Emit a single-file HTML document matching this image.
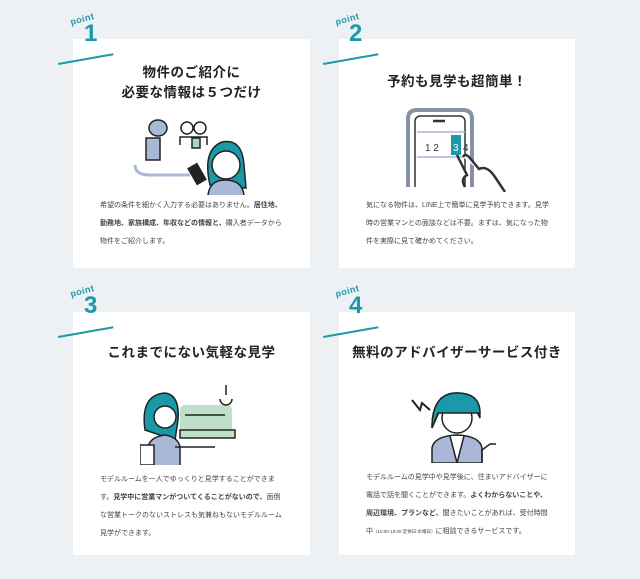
<!DOCTYPE html>
<html><head><meta charset="utf-8"><style>
body{margin:0;width:640px;height:579px;background:#eef1f4;position:relative;overflow:hidden;font-family:"Liberation Sans","Noto Sans CJK JP",sans-serif;color:#333}
.card{position:absolute;background:#fff}
.pt{position:absolute;color:#1a9aa8;font-weight:bold}
.pt .p{position:absolute;font-size:9px;transform:rotate(-15deg);left:8px;top:0;letter-spacing:0.5px}
.pt .n{position:absolute;font-size:24px;left:22px;top:6px}
.ln{position:absolute;height:2px;background:#1a9aa8;transform-origin:0 0;transform:rotate(-10deg);width:56px}
.t{position:absolute;left:0;right:0;text-align:center;font-size:13.5px;font-weight:bold;line-height:20px;color:#222;letter-spacing:0.5px;white-space:nowrap}
.b{position:absolute;left:27px;font-size:7px;line-height:18px;color:#444;white-space:nowrap}
svg{position:absolute}
</style></head><body>
<div class="card" style="left:73px;top:39px;width:237px;height:229px">
<div class="t" style="top:24px">物件のご紹介に<br>必要な情報は５つだけ</div>
<div class="b" style="top:158px">希望の条件を細かく入力する必要はありません。<b>居住地、</b><br><b>勤務地、家族構成、年収などの情報と、</b>購入者データから<br>物件をご紹介します。</div>
</div>
<div class="card" style="left:339px;top:39px;width:236px;height:229px">
<div class="t" style="top:33px">予約も見学も超簡単！</div>
<div class="b" style="top:158px">気になる物件は、LINE上で簡単に見学予約できます。見学<br>時の営業マンとの面談などは不要。まずは、気になった物<br>件を実際に見て確かめてください。</div>
</div>
<div class="card" style="left:73px;top:312px;width:237px;height:243px">
<div class="t" style="top:31px">これまでにない気軽な見学</div>
<div class="b" style="top:159px">モデルルームを一人でゆっくりと見学することができま<br>す。<b>見学中に営業マンがついてくることがないので、</b>面倒<br>な営業トークのないストレスも気兼ねもないモデルルーム<br>見学ができます。</div>
</div>
<div class="card" style="left:339px;top:312px;width:236px;height:243px">
<div class="t" style="top:31px">無料のアドバイザーサービス付き</div>
<div class="b" style="top:157px">モデルルームの見学中や見学後に、住まいアドバイザーに<br>電話で話を聞くことができます。<b>よくわからないことや、</b><br><b>周辺環境、プランなど、</b>聞きたいことがあれば、受付時間<br>中<span style="font-size:4.5px">（10:00-18:00 定休日:水曜日）</span>に相談できるサービスです。</div>
</div>

<div class="pt" style="left:62px;top:14px"><span class="p">point</span><span class="n">1</span></div>
<div class="ln" style="left:58px;top:63px"></div>
<div class="pt" style="left:327px;top:14px"><span class="p">point</span><span class="n">2</span></div>
<div class="ln" style="left:323px;top:63px"></div>
<div class="pt" style="left:62px;top:286px"><span class="p">point</span><span class="n">3</span></div>
<div class="ln" style="left:58px;top:336px"></div>
<div class="pt" style="left:327px;top:286px"><span class="p">point</span><span class="n">4</span></div>
<div class="ln" style="left:323px;top:336px"></div>

<svg style="left:130px;top:110px" width="120" height="85" viewBox="0 0 120 85" fill="none" stroke="#222" stroke-width="1.5">
<path d="M5 55 Q5 65 20 65 L60 65" stroke="#aab8d8" stroke-width="3"/>
<ellipse cx="28" cy="18" rx="9" ry="8" fill="#aab8d8"/>
<rect x="16" y="28" width="14" height="22" fill="#aab8d8"/>
<circle cx="57" cy="18" r="6"/><circle cx="70" cy="18" r="6"/>
<path d="M50 35 v-8 h14 v8 M63 35 v-8 h14 v8"/>
<rect x="62" y="28" width="8" height="10" fill="#a8d8b8"/>
<path d="M80 75 Q72 40 92 32 Q112 28 114 55 L116 78 Z" fill="#1a9aa8"/>
<circle cx="96" cy="55" r="14" fill="#fff"/>
<path d="M78 85 Q80 70 95 70 Q112 70 114 85" fill="#aab8d8"/>
<rect x="62" y="55" width="10" height="18" fill="#222" transform="rotate(-30 67 64)"/>
</svg>
<svg style="left:405px;top:107px" width="110" height="85" viewBox="0 0 110 85" fill="none" stroke="#333" stroke-width="2.5">
<path d="M3 80 V12 Q3 3 12 3 H58 Q67 3 67 12 V80" stroke="#8890a8" stroke-width="4"/>
<path d="M10 80 V15 Q10 9 16 9 H54 Q60 9 60 15 V80" stroke-width="1.5"/>
<path d="M28 14 h12"/>
<path d="M12 25 H60 M12 50 H60" stroke="#aab8d8" stroke-width="1.5"/>
<rect x="46" y="28" width="10" height="20" fill="#1a9aa8" stroke="none"/>
<text x="20" y="44" font-size="10" fill="#333" stroke="none">1 2</text>
<text x="48" y="44" font-size="10" fill="#fff" stroke="none">3</text>
<text x="58" y="44" font-size="10" fill="#333" stroke="none">4</text>
<path d="M52 48 L62 68 Q55 72 60 80 M58 50 Q60 46 64 50 L74 62 Q82 58 90 70 L100 85" fill="#fff"/>
</svg>
<svg style="left:140px;top:385px" width="115" height="80" viewBox="0 0 115 80" fill="none" stroke="#222" stroke-width="1.5">
<rect x="40" y="20" width="52" height="30" rx="5" fill="#bfe0c8" stroke="none"/>
<path d="M45 30 h40 M40 45 h55 v8 H40 Z" fill="#bfe0c8"/>
<path d="M86 0 v10 M80 14 a6 6 0 1 0 12 0" />
<path d="M5 45 Q0 10 25 8 Q40 10 38 35 L35 55 Z" fill="#1a9aa8"/>
<circle cx="25" cy="32" r="11" fill="#fff"/>
<path d="M8 80 V62 Q10 52 25 50 Q38 52 40 62 V80" fill="#aab8d8"/>
<rect x="0" y="60" width="14" height="20" fill="#fff"/>
<path d="M35 62 H75"/>
</svg>
<svg style="left:410px;top:388px" width="95" height="75" viewBox="0 0 95 75" fill="none" stroke="#222" stroke-width="1.5">
<path d="M2 12 L10 22 L12 15 L20 22" stroke-width="2"/>
<path d="M22 40 Q22 5 47 5 Q70 5 70 30 L66 22 L30 22 Z" fill="#1a9aa8"/>
<circle cx="47" cy="30" r="15" fill="#fff"/>
<path d="M22 40 Q22 5 47 5 Q70 5 70 25 H28 Z" fill="#1a9aa8"/>
<path d="M22 75 V60 Q24 48 47 47 Q70 48 72 60 V75 Z" fill="#aab8d8"/>
<path d="M40 48 L47 75 L54 48" fill="#fff"/>
<path d="M72 75 V62 l8 -6 h6"/>
</svg>
</body></html>
